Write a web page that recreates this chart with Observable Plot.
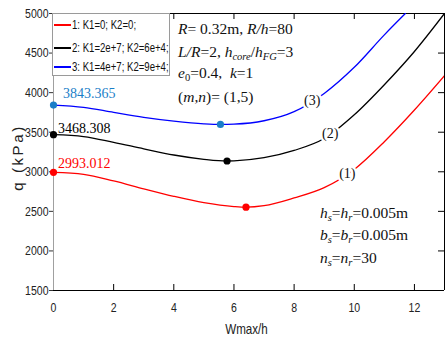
<!DOCTYPE html>
<html><head><meta charset="utf-8">
<script src="https://cdn.jsdelivr.net/npm/d3@7"></script>
<script src="https://cdn.jsdelivr.net/npm/@observablehq/plot@0.6"></script>
<style>
body{margin:0;background:#fff;}
#wrap{position:relative;width:446px;height:339px;overflow:hidden;}
.ann{position:absolute;font-family:"Liberation Serif","Times New Roman",serif;font-size:15.5px;color:#111;white-space:nowrap;line-height:16px;}
.ann sub{font-size:0.68em;vertical-align:-0.3em;line-height:0;}
#legend{position:absolute;left:52px;top:13px;width:118px;height:63px;border:1px solid #9a9a9a;background:#fff;box-sizing:border-box;font-family:"Liberation Sans",Arial,sans-serif;font-size:12px;color:#111;}
.row{position:absolute;left:1px;height:14px;display:flex;align-items:center;white-space:nowrap;}
.sw{display:inline-block;width:17px;height:2px;margin-right:1px;}
.nt{display:inline-block;transform:scaleX(0.8);transform-origin:0 50%;}
</style></head><body>
<div id="wrap"></div>
<script>
// ---- data ----
const wmax1 = [0, 1, 2, 3, 4, 5, 6, 6.4, 7, 8, 9, 10, 11, 12, 13];
const q1    = [2993.012, 2968, 2885, 2785, 2690, 2610, 2561, 2553, 2572, 2670, 2800, 3030, 3380, 3780, 4214];
const wmax2 = [0, 1, 2, 3, 4, 5, 5.77, 6, 7, 8, 9, 10, 11, 12, 13];
const q2    = [3468.308, 3445, 3372, 3290, 3212, 3158, 3136, 3138, 3178, 3270, 3420, 3720, 4100, 4520, 5000];
const wmax3 = [0, 1, 2, 3, 4, 5, 5.55, 6, 7, 8, 9, 10, 11, 11.7];
const q3    = [3843.365, 3815, 3750, 3688, 3640, 3606, 3598, 3602, 3645, 3760, 3990, 4320, 4730, 5000];

const seriesNames  = ["1: K1=0; K2=0;", "2: K1=2e+7; K2=6e+4;", "3: K1=4e+7; K2=9e+4;"];
const seriesColors = ["#ff0000", "#000000", "#0000ff"];
const markerColors = ["#ff0000", "#000000", "#1a7ec8"];
const curveTags    = ["(1)", "(2)", "(3)"];
const tagX = [9.77, 9.2, 8.6];
const tagQ = [2976, 3479, 3900];
const minX = [6.4, 5.77, 5.55];
const minQ = [2553, 3136, 3598];
const startLabels = ["2993.012", "3468.308", "3843.365"];

const xTicks = [0, 2, 4, 6, 8, 10, 12];
const yTicks = [1500, 2000, 2500, 3000, 3500, 4000, 4500, 5000];
const xDomain = [0, 13];
const yDomain = [1500, 5000];
const xLabel = "Wmax/h";
const yLabel = "q (kPa)";

// ---- build table ----
const pts = [];
[[wmax1, q1], [wmax2, q2], [wmax3, q3]].forEach(([xs, qs], i) =>
  xs.forEach((x, j) => pts.push({s: i, x, q: qs[j]})));
const starts = [0, 1, 2].map(i => ({s: i, x: 0, q: [q1, q2, q3][i][0], label: startLabels[i]}));
const mins = minX.map((x, i) => ({s: i, x, q: minQ[i]}));
const tags = tagX.map((x, i) => ({s: i, x, q: tagQ[i], t: curveTags[i]}));

const W = 446, H = 339, mL = 53, mR = 2, mT = 13, mB = 49;
const kx = (xDomain[1] - xDomain[0]) / (W - mL - mR);   // data units per px
const ky = (yDomain[1] - yDomain[0]) / (H - mT - mB);
const tl = 6; // tick length px
const innerX = xTicks.filter(d => d > xDomain[0] && d < xDomain[1]);
const innerY = yTicks.filter(d => d > yDomain[0] && d < yDomain[1]);
const sans = '"Liberation Sans",Arial,sans-serif';
const serif = '"Liberation Serif","Times New Roman",serif';

const chart = Plot.plot({
  width: W, height: H,
  marginLeft: mL, marginRight: mR, marginTop: mT, marginBottom: mB,
  style: {fontFamily: sans, fontSize: "13.5px", color: "#222", background: "#fff"},
  x: {domain: xDomain, ticks: xTicks},
  y: {domain: yDomain, ticks: yTicks},
  marks: [
    Plot.axisY({ticks: yTicks, tickSize: 4, tickPadding: 1, tickFormat: d => String(d), label: null, fontSize: 13.5, stroke: "#333"}),
    Plot.axisX({ticks: xTicks, tickSize: 0, tickPadding: 12, tickFormat: d => String(d), label: null, fontSize: 13.5}),
    Plot.ruleX([xDomain[0]], {stroke: "#a0a0a0", strokeWidth: 1}),
    Plot.ruleX([xDomain[1]], {stroke: "#000", strokeWidth: 1}),
    Plot.ruleY([yDomain[0]], {stroke: "#000", strokeWidth: 1}),
    Plot.ruleY([yDomain[1]], {stroke: "#000", strokeWidth: 1}),
    Plot.ruleX(innerX, {y1: yDomain[0], y2: yDomain[0] + tl * ky, stroke: "#000"}),
    Plot.ruleX(innerX, {y1: yDomain[1] - tl * ky, y2: yDomain[1], stroke: "#000"}),
    Plot.ruleY(innerY, {x1: xDomain[1] - tl * kx, x2: xDomain[1], stroke: "#000"}),
    Plot.line(pts, {x: "x", y: "q", z: "s", stroke: d => seriesColors[d.s], curve: "monotone-x", strokeWidth: 1.3, clip: true}),
    Plot.text(tags, {x: "x", y: "q", text: "t", fontFamily: serif, fontSize: 14, fill: "#111", stroke: "#fff", strokeWidth: 5}),
    Plot.dot(starts, {x: "x", y: "q", r: 3.6, fill: d => markerColors[d.s], stroke: "none"}),
    Plot.dot(mins, {x: "x", y: "q", r: 3.6, fill: d => markerColors[d.s], stroke: "none"}),
  ]
});
const wrap = document.getElementById("wrap");
wrap.appendChild(chart);
const sx = chart.scale("x"), sy = chart.scale("y");
const svg = d3.select(chart);

// narrow tick labels (Arial Narrow look): scale horizontally about each text's anchor
svg.selectAll("g[aria-label$='tick label'] text").each(function () {
  const el = d3.select(this);
  const x = +(el.attr("x") || 0);
  const t = el.attr("transform") || "";
  el.attr("transform", `${t} translate(${x},0) scale(0.78,1) translate(${-x},0)`);
});

// start value labels
const offs = [[5, -9], [5, -6], [10, -11]];
starts.forEach((d, i) => {
  svg.append("text").attr("x", sx.apply(d.x) + offs[i][0]).attr("y", sy.apply(d.q) + offs[i][1])
    .attr("dy", "0.35em").attr("text-anchor", "start").attr("fill", markerColors[i])
    .attr("font-family", serif).attr("font-size", 14).text(d.label);
});

// axis titles
svg.append("text").attr("transform", `translate(18,${(sy.apply(yDomain[0]) + sy.apply(yDomain[1])) / 2 + 6}) rotate(-90)`)
  .attr("text-anchor", "middle").attr("dy", "0.35em").attr("font-family", sans).attr("font-size", 15)
  .attr("letter-spacing", "2.6px").attr("fill", "#222").text(yLabel);
const cx = (sx.apply(xDomain[0]) + sx.apply(xDomain[1])) / 2 - 2;
svg.append("text").attr("transform", `translate(${cx},329) scale(0.8,1)`)
  .attr("text-anchor", "middle").attr("dy", "0.35em").attr("font-family", sans).attr("font-size", 14.5)
  .attr("fill", "#222").text(xLabel);

// legend
const leg = document.createElement("div");
leg.id = "legend";
const rowY = [11, 34, 53];
seriesNames.forEach((n, i) => {
  const r = document.createElement("div");
  r.className = "row"; r.style.top = (rowY[i] - 7) + "px";
  r.innerHTML = `<span class="sw" style="background:${seriesColors[i]}"></span><span class="nt">${n}</span>`;
  leg.appendChild(r);
});
wrap.appendChild(leg);

// annotations
const ann = [
  [178, 21, '<i>R</i>= 0.32m, <i>R/h</i>=80'],
  [178, 44, '<i>L/R</i>=2, <i>h<sub>core</sub></i>/<i>h<sub>FG</sub></i>=3'],
  [178, 65, '<i>e</i><sub>0</sub>=0.4,&nbsp; <i>k</i>=1'],
  [178, 89, '(<i>m</i>,<i>n</i>)= (1,5)'],
  [320, 205, '<i>h<sub>s</sub></i>=<i>h<sub>r</sub></i>=0.005m'],
  [320, 227, '<i>b<sub>s</sub></i>=<i>b<sub>r</sub></i>=0.005m'],
  [320, 250, '<i>n<sub>s</sub></i>=<i>n<sub>r</sub></i>=30'],
];
ann.forEach(([x, y, h]) => {
  const d = document.createElement("div");
  d.className = "ann"; d.style.left = x + "px"; d.style.top = y + "px"; d.innerHTML = h;
  wrap.appendChild(d);
});
</script>
</body></html>
